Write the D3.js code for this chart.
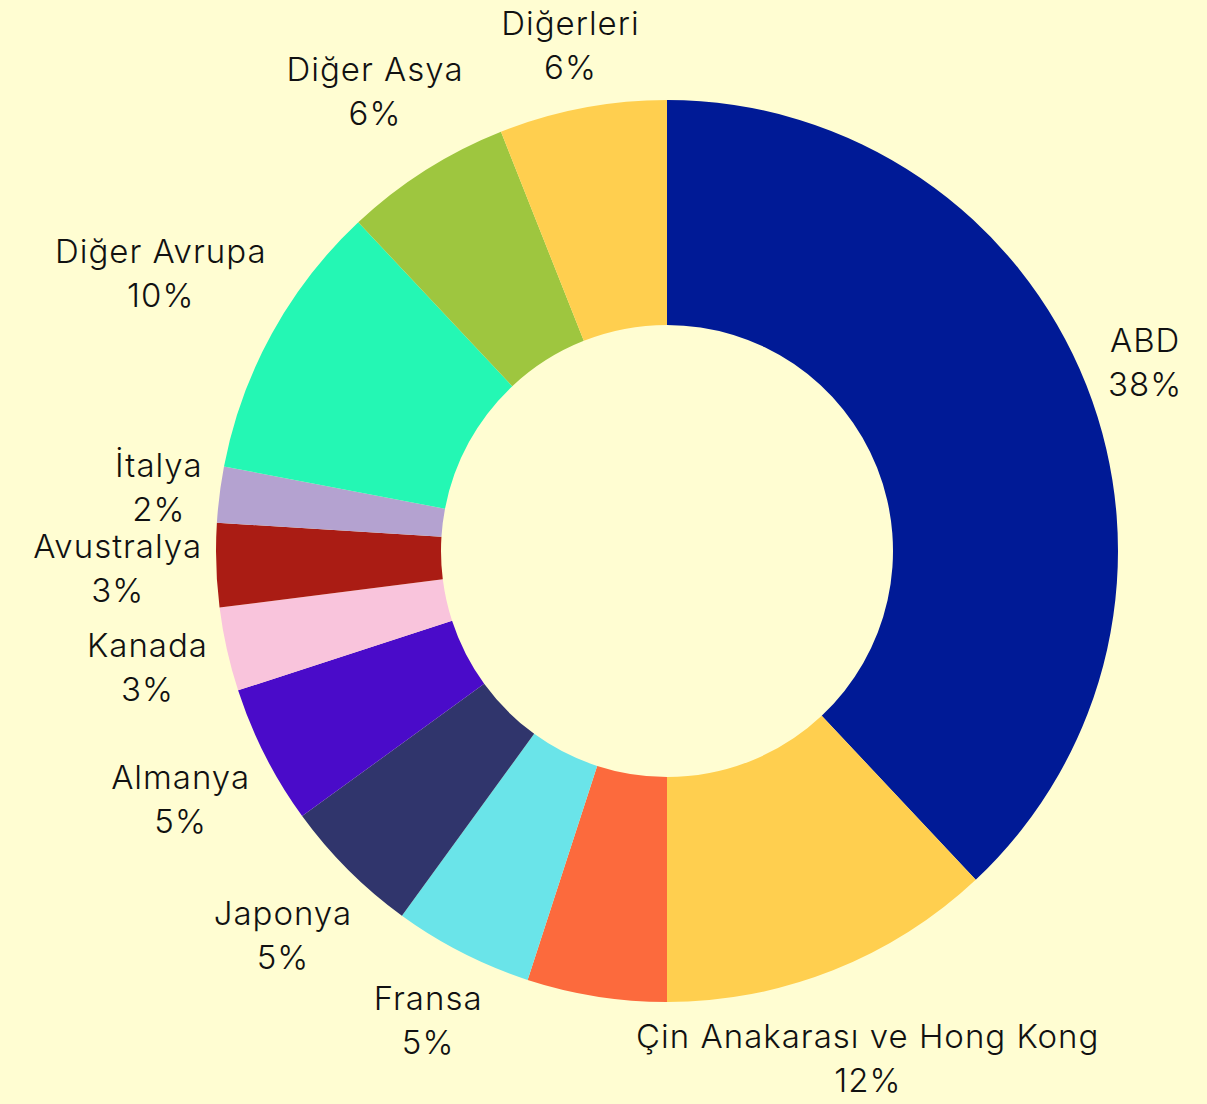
<!DOCTYPE html>
<html>
<head>
<meta charset="utf-8">
<script src="https://cdn.jsdelivr.net/npm/d3@7"></script>
<style>
  html, body { margin: 0; padding: 0; background: #FFFDD2; }
  svg { display: block; }
  .lbl { font-family: "Inter", sans-serif; font-weight: 300; font-size: 33px; letter-spacing: 1px; fill: #111; }
</style>
</head>
<body>
<div id="chart"></div>
<script>
// slices, clockwise from 12 o'clock
var names = ["ABD", "Çin Anakarası ve Hong Kong", null, "Fransa", "Japonya", "Almanya",
             "Kanada", "Avustralya", "İtalya", "Diğer Avrupa", "Diğer Asya", "Diğerleri"];
var values = [38, 12, 5, 5, 5, 5, 3, 3, 2, 10, 6, 6];
var colors = ["#001A96", "#FFCF4F", "#FC6A3D", "#6AE4E9", "#30356C", "#4A0BC9",
              "#F9C4DC", "#AA1C14", "#B4A2D0", "#24F7B4", "#9EC63F", "#FFCF4F"];

var opt = { width: 1207, height: 1104, cx: 667, cy: 551, outer: 451, inner: 226, gap: 14, lineH: 44 };

var svg = d3.select("#chart").append("svg")
  .attr("width", opt.width)
  .attr("height", opt.height);

svg.append("rect").attr("width", opt.width).attr("height", opt.height).attr("fill", "#FFFDD2");

var data = values.map(function(v, i) { return { name: names[i], value: v, color: colors[i] }; });

var pie = d3.pie().sort(null).value(function(d) { return d.value; });
var arc = d3.arc().innerRadius(opt.inner).outerRadius(opt.outer);
var arcs = pie(data);
var total = d3.sum(values);

var g = svg.append("g").attr("transform", "translate(" + opt.cx + "," + opt.cy + ")");

g.selectAll("path.slice")
  .data(arcs).enter()
  .append("path")
  .attr("class", "slice")
  .attr("d", arc)
  .attr("fill", function(d) { return d.data.color; });

// outside labels: push the text box outwards along the mid angle
// until its nearest point sits just outside the ring
var labels = g.selectAll("text.lbl")
  .data(arcs.filter(function(d) { return d.data.name; })).enter()
  .append("text")
  .attr("class", "lbl")
  .attr("text-anchor", "middle");

labels.append("tspan").attr("x", 0).attr("y", 0).text(function(d) { return d.data.name; });
labels.append("tspan").attr("x", 0).attr("y", opt.lineH)
  .text(function(d) { return Math.round(d.data.value / total * 100) + "%"; });

labels.each(function(d) {
  var el = d3.select(this);
  var bb = this.getBBox();
  var a = (d.startAngle + d.endAngle) / 2;
  var ux = Math.sin(a), uy = -Math.cos(a);
  var hw = bb.width / 2, hh = bb.height / 2;
  var target = opt.outer + opt.gap;
  function nearest(t) {
    var x = t * ux, y = t * uy;
    var nx = Math.max(x - hw, Math.min(0, x + hw));
    var ny = Math.max(y - hh, Math.min(0, y + hh));
    return Math.sqrt(nx * nx + ny * ny);
  }
  var lo = 0, hi = 1200;
  for (var k = 0; k < 40; k++) {
    var mid = (lo + hi) / 2;
    if (nearest(mid) < target) lo = mid; else hi = mid;
  }
  var cx = hi * ux, cy = hi * uy;
  var dx = cx - (bb.x + hw), dy = cy - (bb.y + hh);
  el.attr("transform", "translate(" + dx + "," + dy + ")");
});
</script>
</body>
</html>
